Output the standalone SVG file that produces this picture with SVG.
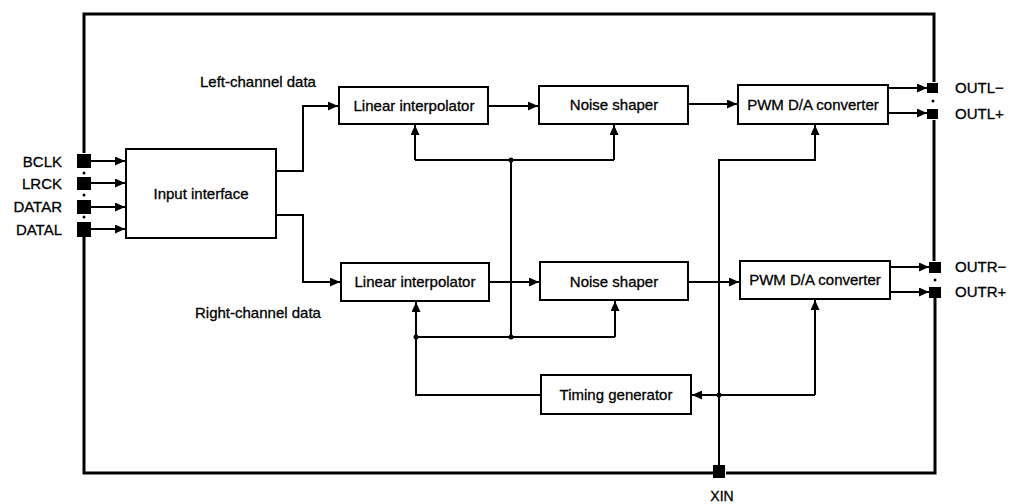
<svg xmlns="http://www.w3.org/2000/svg" width="1010" height="504" viewBox="0 0 1010 504">
<style>
.frame{fill:none;stroke:#000;stroke-width:3}
.box{fill:#fff;stroke:#000;stroke-width:2}
.wire{fill:none;stroke:#000;stroke-width:2}
.arr{marker-end:url(#ah)}
.pin{fill:#000}
.dot{fill:#000}
text{font-family:"Liberation Sans",Arial,sans-serif;font-size:15px;fill:#000;stroke:#000;stroke-width:0.3}
.c{text-anchor:middle}
.r{text-anchor:end}
</style>
<defs>
<marker id="ah" markerUnits="userSpaceOnUse" markerWidth="10" markerHeight="9" refX="10" refY="4.5" orient="auto">
<path d="M0,0 L10,4.5 L0,9 z" fill="#000"/>
</marker>
</defs>
<g id="frame">
<path class="frame" d="M84,153 V14 H934 V82"/>
<path class="frame" d="M934,120 V261"/>
<path class="frame" d="M935,298 V473 H726"/>
<path class="frame" d="M713,473 H84 V237"/>
<circle class="dot" cx="84" cy="173" r="1.5"/>
<circle class="dot" cx="84" cy="195" r="1.5"/>
<circle class="dot" cx="84" cy="217" r="1.5"/>
<circle class="dot" cx="933" cy="101" r="1.5"/>
<circle class="dot" cx="935" cy="280" r="1.5"/>
</g>
<g id="pins">
<g id="pin-bclk"><rect class="pin" x="77" y="154" width="14" height="14"/><text class="r" x="62" y="167">BCLK</text></g>
<g id="pin-lrck"><rect class="pin" x="77" y="177" width="14" height="13"/><text class="r" x="62" y="189">LRCK</text></g>
<g id="pin-datar"><rect class="pin" x="77" y="200" width="14" height="14"/><text class="r" x="62" y="212">DATAR</text></g>
<g id="pin-datal"><rect class="pin" x="77" y="222" width="14" height="15"/><text class="r" x="62" y="235">DATAL</text></g>
<g id="pin-outlm"><rect class="pin" x="927" y="83" width="11" height="10"/><text x="955" y="93">OUTL−</text></g>
<g id="pin-outlp"><rect class="pin" x="927" y="109" width="11" height="10"/><text x="955" y="119">OUTL+</text></g>
<g id="pin-outrm"><rect class="pin" x="929" y="262" width="12" height="11"/><text x="955" y="272">OUTR−</text></g>
<g id="pin-outrp"><rect class="pin" x="929" y="287" width="12" height="11"/><text x="955" y="297">OUTR+</text></g>
<g id="pin-xin"><rect class="pin" x="713" y="465" width="12" height="13"/><text class="c" x="722" y="501" style="font-size:14px">XIN</text></g>
</g>
<g id="input-interface"><rect class="box" x="126" y="149" width="150" height="89"/><text class="c" x="201" y="199">Input interface</text></g>
<g id="linear-interpolator-l"><rect class="box" x="339" y="87" width="149" height="37"/><text class="c" x="414" y="111">Linear interpolator</text></g>
<g id="noise-shaper-l"><rect class="box" x="539" y="86" width="149" height="38"/><text class="c" x="614" y="110">Noise shaper</text></g>
<g id="pwm-l"><rect class="box" x="738" y="85" width="150" height="39"/><text class="c" x="813" y="110">PWM D/A converter</text></g>
<g id="linear-interpolator-r"><rect class="box" x="341" y="263" width="148" height="38"/><text class="c" x="415" y="287">Linear interpolator</text></g>
<g id="noise-shaper-r"><rect class="box" x="540" y="262" width="148" height="38"/><text class="c" x="614" y="287">Noise shaper</text></g>
<g id="pwm-r"><rect class="box" x="740" y="261" width="150" height="38"/><text class="c" x="815" y="285">PWM D/A converter</text></g>
<g id="timing-generator"><rect class="box" x="541" y="375" width="150" height="39"/><text class="c" x="616" y="400">Timing generator</text></g>
<g id="labels">
<text x="200" y="87">Left-channel data</text>
<text x="195" y="318">Right-channel data</text>
</g>
<g id="connectors">
<path class="wire arr" d="M91,161 H125"/>
<path class="wire arr" d="M91,183 H125"/>
<path class="wire arr" d="M91,207 H125"/>
<path class="wire arr" d="M91,229 H125"/>
<path class="wire arr" d="M276,171 H303 V106 H338"/>
<path class="wire arr" d="M276,215 H303 V282 H340"/>
<path class="wire arr" d="M488,106 H538"/>
<path class="wire arr" d="M688,104 H737"/>
<path class="wire arr" d="M888,88 H927"/>
<path class="wire arr" d="M888,113 H927"/>
<path class="wire arr" d="M489,282 H539"/>
<path class="wire arr" d="M688,282 H739"/>
<path class="wire arr" d="M890,267 H929"/>
<path class="wire arr" d="M890,292 H929"/>
<path class="wire arr" d="M415,160 V125"/>
<path class="wire arr" d="M614,160 V125"/>
<path class="wire" d="M415,160 H614"/>
<path class="wire" d="M511,160 V337"/>
<path class="wire arr" d="M416,337 V302"/>
<path class="wire arr" d="M615,337 V301"/>
<path class="wire" d="M416,337 H615"/>
<path class="wire" d="M416,337 V395 H541"/>
<path class="wire arr" d="M719,465 V160 H815 V125"/>
<path class="wire arr" d="M815,395 V300"/>
<path class="wire arr" d="M815,395 H692"/>
<circle class="dot" cx="511" cy="160" r="2.5"/>
<circle class="dot" cx="511" cy="337" r="2.5"/>
<circle class="dot" cx="416" cy="337" r="2.5"/>
<circle class="dot" cx="719" cy="395" r="2.5"/>
</g>
</svg>
